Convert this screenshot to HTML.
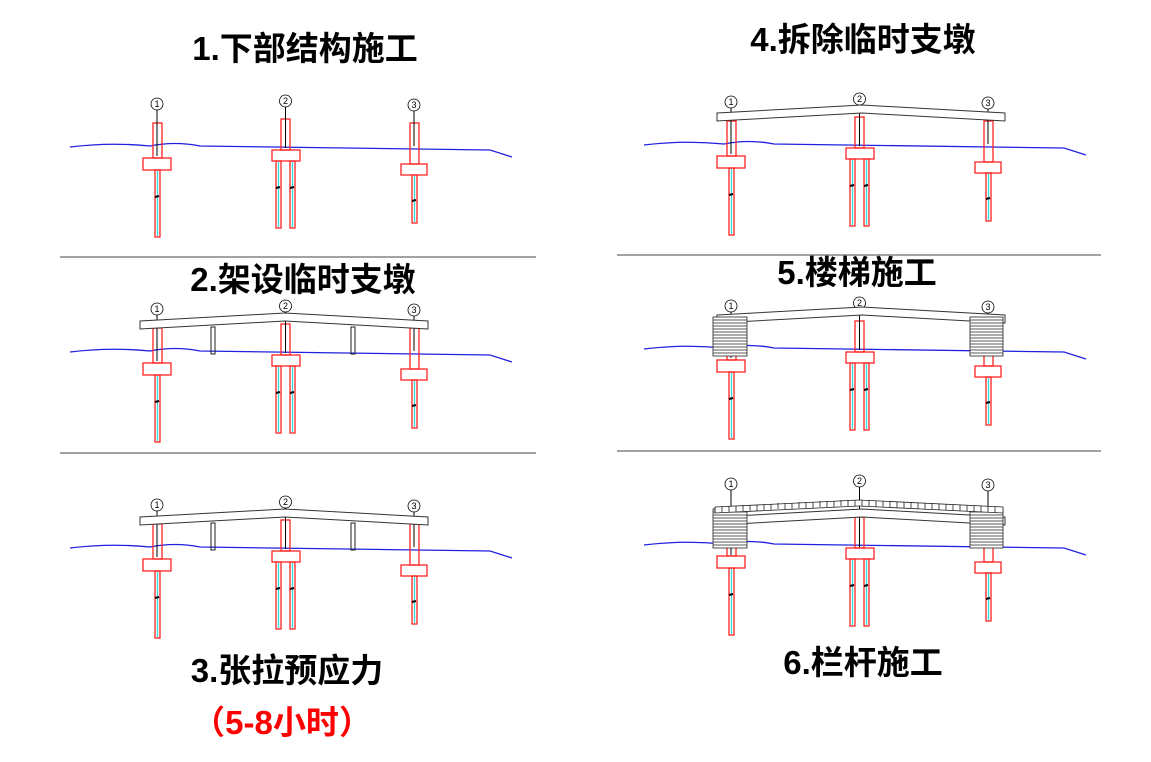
<!DOCTYPE html>
<html><head><meta charset="utf-8"><style>
body{margin:0;background:#fff;width:1151px;height:762px;overflow:hidden}
svg{position:absolute;left:0;top:0}
.t{font-family:"Liberation Sans","Noto Sans CJK SC",sans-serif;font-weight:bold;font-size:33px;fill:#000}
.n{font-family:"Liberation Sans",sans-serif;font-size:9px;fill:#000}
</style></head><body>
<svg width="1151" height="762" viewBox="0 0 1151 762">
<defs>
<g id="body" fill="none" stroke-width="1.3">
 <path d="M70 147 Q110 142 150 146 Q175 141 200 146 L490 150 L512 157" stroke="#2020e0"/>
 <rect x="153" y="123" width="9" height="35" stroke="#f22"/>
 <rect x="143" y="158" width="28" height="12" stroke="#f22"/>
 <rect x="155" y="170" width="5" height="67" stroke="#f22"/>
 <line x1="157.5" y1="171" x2="157.5" y2="236" stroke="#3dd"/>
 <rect x="281" y="119" width="9" height="31" stroke="#f22"/>
 <rect x="272" y="150" width="28" height="11" stroke="#f22"/>
 <rect x="276" y="161" width="5" height="67" stroke="#f22"/>
 <rect x="290" y="161" width="5" height="67" stroke="#f22"/>
 <line x1="278.5" y1="162" x2="278.5" y2="227" stroke="#3dd"/>
 <line x1="292.5" y1="162" x2="292.5" y2="227" stroke="#3dd"/>
 <rect x="410" y="123" width="9" height="41" stroke="#f22"/>
 <rect x="401" y="164" width="26" height="11" stroke="#f22"/>
 <rect x="412" y="175" width="5" height="48" stroke="#f22"/>
 <line x1="414.5" y1="176" x2="414.5" y2="222" stroke="#3dd"/>
 <g stroke="#000" stroke-width="2"><line x1="155" y1="197" x2="159" y2="196"/><line x1="276" y1="188" x2="280" y2="187"/><line x1="290" y1="188" x2="294" y2="187"/><line x1="412" y1="201" x2="416" y2="200"/></g>
</g>
<g id="lead" fill="none" stroke="#000" stroke-width="1">
 <line x1="157" y1="110" x2="157" y2="156"/>
 <line x1="285.5" y1="107" x2="285.5" y2="148"/>
 <line x1="414" y1="111" x2="414" y2="146"/>
</g>
<g id="nums">
 <g fill="#fff" stroke="#000" stroke-width="0.8"><circle cx="157" cy="104" r="6"/><circle cx="285.5" cy="101" r="6"/><circle cx="414" cy="105" r="6"/></g>
 <g class="n" text-anchor="middle"><text x="157" y="107">1</text><text x="285.5" y="104">2</text><text x="414" y="108">3</text></g>
</g>
<g id="piers"><use href="#body"/><use href="#lead"/><use href="#nums"/></g>
<g id="deck" fill="none" stroke="#333" stroke-width="1">
 <path d="M140 321 L285 313 L428 321 L428 329 L285 321 L140 329 Z" fill="#fff"/>
</g>
<g id="temp" fill="none" stroke="#222" stroke-width="1">
 <rect x="211" y="327" width="4" height="27"/><rect x="351" y="327" width="4" height="27"/>
</g>
<g id="stairs" stroke="#222" stroke-width="0.8" fill="#fff">
 <rect x="713" y="317" width="34" height="39"/>
 <rect x="970" y="317" width="33" height="39"/>
 <path d="M713 320H747M713 323H747M713 326H747M713 329H747M713 332H747M713 335H747M713 338H747M713 341H747M713 344H747M713 347H747M713 350H747M713 353H747M970 320H1003M970 323H1003M970 326H1003M970 329H1003M970 332H1003M970 335H1003M970 338H1003M970 341H1003M970 344H1003M970 347H1003M970 350H1003M970 353H1003" fill="none"/>
</g>
</defs>
<g stroke="#444" stroke-width="1">
<line x1="60" y1="257" x2="536" y2="257"/><line x1="60" y1="453" x2="536" y2="453"/>
<line x1="617" y1="255" x2="1101" y2="255"/><line x1="617" y1="451" x2="1101" y2="451"/>
</g>
<use href="#piers"/>
<g transform="translate(0,205)"><use href="#piers"/></g>
<use href="#temp"/><use href="#deck"/>
<g transform="translate(0,401)"><use href="#piers"/></g>
<g transform="translate(0,196)"><use href="#temp"/><use href="#deck"/></g>
<g transform="translate(574,-2)"><use href="#piers"/></g>
<g transform="translate(577,-208)"><use href="#deck"/></g>
<g transform="translate(574,202)"><use href="#piers"/></g>
<g transform="translate(577,-6)"><use href="#deck"/></g>
<use href="#stairs"/>
<!-- panel6 -->
<g transform="translate(574,398)"><use href="#body"/></g>
<g fill="none" stroke="#000" stroke-width="1">
 <line x1="731" y1="490" x2="731" y2="555"/><line x1="859.5" y1="486" x2="859.5" y2="547"/><line x1="988" y1="490" x2="988" y2="545"/>
</g>
<g transform="translate(574,380)"><use href="#nums"/></g>
<g transform="translate(577,196)"><use href="#deck"/></g>
<g transform="translate(0,192)"><use href="#stairs"/></g>
<g fill="none" stroke="#222" stroke-width="0.8">
 <path d="M715 507 L859 500 L1003 507 L1003 513 L859 506 L715 513 Z" fill="#fff"/>
 <path d="M715 507V513M722 507V513M729 506V512M736 506V512M743 505V511M750 505V511M757 505V511M764 504V510M771 504V510M778 503V509M785 503V509M792 503V509M799 502V508M806 502V508M813 502V508M820 501V507M827 501V507M834 501V507M841 500V506M848 500V506M855 500V506M862 500V506M869 500V506M876 501V507M883 501V507M890 501V507M897 502V508M904 502V508M911 502V508M918 503V509M925 503V509M932 503V509M939 504V510M946 504V510M953 505V511M960 505V511M967 505V511M974 506V512M981 506V512M988 506V512M995 507V513"/>
</g>
<text class="t" x="305" y="60" text-anchor="middle">1.下部结构施工</text>
<text class="t" x="303" y="291" text-anchor="middle">2.架设临时支墩</text>
<text class="t" x="287" y="682" text-anchor="middle">3.张拉预应力</text>
<text class="t" x="282" y="734" text-anchor="middle" style="fill:#f00">（5-8小时）</text>
<text class="t" x="863" y="51" text-anchor="middle">4.拆除临时支墩</text>
<text class="t" x="857" y="284" text-anchor="middle">5.楼梯施工</text>
<text class="t" x="863" y="674" text-anchor="middle">6.栏杆施工</text>
</svg>
</body></html>
